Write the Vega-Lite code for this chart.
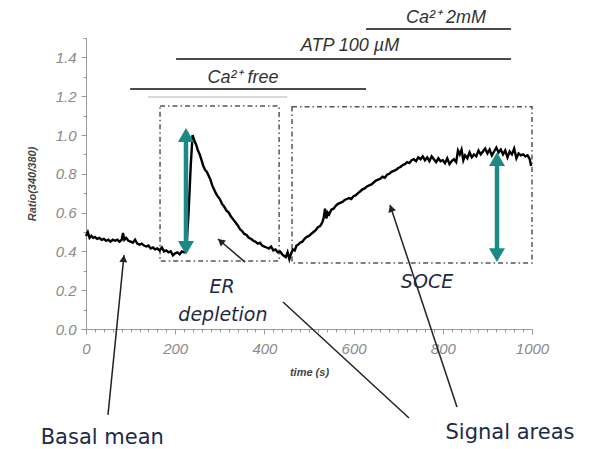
{
  "$schema": "https://vega.github.io/schema/vega-lite/v6.json",
  "autosize": "none",
  "width": 446,
  "height": 291,
  "padding": {"left": 86, "top": 38, "right": 76, "bottom": 120},
  "background": "white",
  "config": {"view": {"stroke": null}},
  "datasets": {
    "trace": [
      {"t":0,"v":0.48},{"t":4,"v":0.5},{"t":8,"v":0.47},{"t":12,"v":0.48},{"t":16,"v":0.47},{"t":20,"v":0.475},{"t":25,"v":0.465},{"t":30,"v":0.47},{"t":35,"v":0.46},{"t":40,"v":0.465},{"t":45,"v":0.455},{"t":50,"v":0.46},{"t":55,"v":0.45},{"t":60,"v":0.46},{"t":65,"v":0.455},{"t":70,"v":0.46},{"t":75,"v":0.45},{"t":80,"v":0.46},{"t":83,"v":0.495},{"t":86,"v":0.46},{"t":90,"v":0.47},{"t":95,"v":0.455},{"t":100,"v":0.45},{"t":105,"v":0.445},{"t":110,"v":0.46},{"t":115,"v":0.44},{"t":120,"v":0.435},{"t":125,"v":0.44},{"t":130,"v":0.43},{"t":135,"v":0.425},{"t":140,"v":0.43},{"t":145,"v":0.415},{"t":150,"v":0.42},{"t":155,"v":0.41},{"t":160,"v":0.415},{"t":165,"v":0.405},{"t":170,"v":0.42},{"t":175,"v":0.4},{"t":180,"v":0.405},{"t":185,"v":0.395},{"t":190,"v":0.4},{"t":195,"v":0.38},{"t":200,"v":0.39},{"t":205,"v":0.395},{"t":210,"v":0.385},{"t":215,"v":0.4},{"t":220,"v":0.395},{"t":225,"v":0.41},{"t":230,"v":0.6},{"t":235,"v":0.85},{"t":239,"v":1.0},{"t":243,"v":0.97},{"t":247,"v":0.95},{"t":251,"v":0.92},{"t":255,"v":0.9},{"t":259,"v":0.87},{"t":263,"v":0.84},{"t":267,"v":0.82},{"t":271,"v":0.81},{"t":275,"v":0.79},{"t":279,"v":0.77},{"t":283,"v":0.74},{"t":287,"v":0.72},{"t":291,"v":0.7},{"t":295,"v":0.685},{"t":300,"v":0.67},{"t":305,"v":0.645},{"t":310,"v":0.63},{"t":315,"v":0.61},{"t":320,"v":0.6},{"t":325,"v":0.58},{"t":330,"v":0.565},{"t":335,"v":0.55},{"t":340,"v":0.535},{"t":345,"v":0.515},{"t":350,"v":0.505},{"t":355,"v":0.49},{"t":360,"v":0.485},{"t":365,"v":0.47},{"t":370,"v":0.465},{"t":375,"v":0.455},{"t":380,"v":0.45},{"t":385,"v":0.44},{"t":390,"v":0.445},{"t":395,"v":0.43},{"t":400,"v":0.425},{"t":405,"v":0.42},{"t":410,"v":0.415},{"t":415,"v":0.425},{"t":420,"v":0.405},{"t":425,"v":0.41},{"t":430,"v":0.395},{"t":435,"v":0.4},{"t":440,"v":0.385},{"t":445,"v":0.375},{"t":448,"v":0.37},{"t":452,"v":0.395},{"t":456,"v":0.36},{"t":460,"v":0.39},{"t":464,"v":0.41},{"t":468,"v":0.405},{"t":472,"v":0.43},{"t":476,"v":0.435},{"t":480,"v":0.445},{"t":485,"v":0.45},{"t":490,"v":0.465},{"t":495,"v":0.475},{"t":500,"v":0.48},{"t":505,"v":0.49},{"t":510,"v":0.5},{"t":515,"v":0.51},{"t":520,"v":0.525},{"t":525,"v":0.53},{"t":530,"v":0.55},{"t":533,"v":0.575},{"t":536,"v":0.62},{"t":539,"v":0.57},{"t":542,"v":0.6},{"t":545,"v":0.59},{"t":550,"v":0.615},{"t":555,"v":0.62},{"t":560,"v":0.635},{"t":565,"v":0.645},{"t":570,"v":0.65},{"t":575,"v":0.655},{"t":580,"v":0.665},{"t":585,"v":0.67},{"t":590,"v":0.675},{"t":595,"v":0.67},{"t":600,"v":0.685},{"t":605,"v":0.69},{"t":610,"v":0.7},{"t":615,"v":0.71},{"t":620,"v":0.72},{"t":625,"v":0.725},{"t":630,"v":0.735},{"t":635,"v":0.74},{"t":640,"v":0.745},{"t":645,"v":0.755},{"t":650,"v":0.765},{"t":655,"v":0.77},{"t":660,"v":0.775},{"t":665,"v":0.785},{"t":670,"v":0.78},{"t":675,"v":0.795},{"t":680,"v":0.8},{"t":685,"v":0.81},{"t":690,"v":0.815},{"t":695,"v":0.82},{"t":700,"v":0.83},{"t":705,"v":0.835},{"t":710,"v":0.845},{"t":715,"v":0.85},{"t":720,"v":0.86},{"t":725,"v":0.855},{"t":730,"v":0.87},{"t":735,"v":0.875},{"t":740,"v":0.865},{"t":745,"v":0.885},{"t":750,"v":0.875},{"t":755,"v":0.89},{"t":760,"v":0.87},{"t":765,"v":0.885},{"t":770,"v":0.865},{"t":775,"v":0.89},{"t":780,"v":0.875},{"t":785,"v":0.86},{"t":790,"v":0.88},{"t":795,"v":0.865},{"t":800,"v":0.87},{"t":805,"v":0.855},{"t":810,"v":0.88},{"t":815,"v":0.85},{"t":820,"v":0.865},{"t":825,"v":0.875},{"t":830,"v":0.86},{"t":834,"v":0.92},{"t":838,"v":0.9},{"t":842,"v":0.925},{"t":846,"v":0.87},{"t":850,"v":0.895},{"t":855,"v":0.88},{"t":860,"v":0.91},{"t":865,"v":0.885},{"t":870,"v":0.9},{"t":875,"v":0.89},{"t":880,"v":0.92},{"t":885,"v":0.9},{"t":890,"v":0.915},{"t":895,"v":0.93},{"t":900,"v":0.905},{"t":905,"v":0.925},{"t":910,"v":0.895},{"t":915,"v":0.915},{"t":920,"v":0.935},{"t":925,"v":0.91},{"t":930,"v":0.925},{"t":935,"v":0.9},{"t":940,"v":0.92},{"t":945,"v":0.885},{"t":950,"v":0.915},{"t":955,"v":0.9},{"t":960,"v":0.93},{"t":965,"v":0.88},{"t":970,"v":0.905},{"t":975,"v":0.895},{"t":980,"v":0.9},{"t":985,"v":0.89},{"t":990,"v":0.895},{"t":995,"v":0.875},{"t":998,"v":0.84}
    ],
    "boxes": [
      {"t":166,"t2":433,"v":1.149,"v2":0.35},
      {"t":462,"t2":1000,"v":1.145,"v2":0.34}
    ],
    "bars": [
      {"t":99,"t2":628,"v":1.237},
      {"t":202,"t2":953,"v":1.392},
      {"t":628,"t2":953,"v":1.546}
    ],
    "lightbar": [
      {"t":139,"t2":451,"v":1.196}
    ],
    "teal": [
      {"t":224.2,"v":1.0,"v2":0.418},
      {"t":921.5,"v":0.876,"v2":0.381}
    ],
    "pointers": [
      {"t":49.3,"v":-0.443,"t2":85.2,"v2":0.381},
      {"t":356.5,"v":0.345,"t2":296,"v2":0.464},
      {"t":724.2,"v":-0.459,"t2":441.7,"v2":0.139},
      {"t":831.8,"v":-0.402,"t2":681.6,"v2":0.639}
    ],
    "toplabels": [
      {"t":352,"v":1.294,"txt":"Ca²⁺ free"},
      {"t":592,"v":1.459,"txt":"ATP 100 µM"},
      {"t":807,"v":1.603,"txt":"Ca²⁺ 2mM"}
    ],
    "regionlabels": [
      {"t":305,"v":0.216,"txt":"ER"},
      {"t":307,"v":0.072,"txt":"depletion"},
      {"t":764.6,"v":0.242,"txt":"SOCE"}
    ],
    "bottomlabels": [
      {"t":36.5,"v":-0.562,"txt":"Basal mean"},
      {"t":950.7,"v":-0.536,"txt":"Signal areas"}
    ]
  },
  "encoding": {
    "x": {
      "field": "t", "type": "quantitative",
      "scale": {"domain": [0, 1000], "nice": false, "zero": false},
      "axis": {
        "title": "time (s)",
        "values": [0,20,40,60,80,100,120,140,160,180,200,220,240,260,280,300,320,340,360,380,400,420,440,460,480,500,520,540,560,580,600,620,640,660,680,700,720,740,760,780,800,820,840,860,880,900,920,940,960,980,1000],
        "format": "d",
        "labelExpr": "datum.value % 200 === 0 ? datum.label : ''",
        "labelOverlap": false,
        "labelFlush": false,
        "labelFont": "Liberation Sans",
        "labelFontStyle": "italic",
        "labelFontSize": 15,
        "labelColor": "#8a8a8a",
        "labelPadding": 7,
        "tickColor": "#999999",
        "tickSize": {"condition": {"test": "datum.value % 200 === 0", "value": 5}, "value": 3},
        "domainColor": "#999999",
        "grid": false,
        "titleFont": "Liberation Sans",
        "titleFontStyle": "italic",
        "titleFontWeight": "bold",
        "titleFontSize": 11,
        "titleColor": "#444444",
        "titlePadding": 10
      }
    },
    "y": {
      "field": "v", "type": "quantitative",
      "scale": {"domain": [0, 1.5], "nice": false, "zero": false},
      "axis": {
        "title": "Ratio(340/380)",
        "values": [0,0.1,0.2,0.3,0.4,0.5,0.6,0.7,0.8,0.9,1.0,1.1,1.2,1.3,1.4,1.5],
        "labelExpr": "round(datum.value*10) % 2 === 0 ? format(datum.value, '.1f') : ''",
        "labelOverlap": false,
        "labelFlush": false,
        "labelFont": "Liberation Sans",
        "labelFontStyle": "italic",
        "labelFontSize": 15,
        "labelColor": "#8a8a8a",
        "labelPadding": 5,
        "tickColor": "#999999",
        "tickSize": {"condition": {"test": "round(datum.value*10) % 2 === 0", "value": 5}, "value": 3},
        "domainColor": "#999999",
        "grid": false,
        "titleFont": "Liberation Sans",
        "titleFontStyle": "italic",
        "titleFontWeight": "bold",
        "titleFontSize": 11,
        "titleColor": "#444444",
        "titlePadding": 18
      }
    }
  },
  "layer": [
    {
      "data": {"name": "boxes"},
      "mark": {"type": "rect", "fill": "transparent", "stroke": "#555555", "strokeWidth": 1.5, "strokeDash": [5, 3, 1.5, 3]},
      "encoding": {"x2": {"field": "t2"}, "y2": {"field": "v2"}}
    },
    {
      "data": {"name": "lightbar"},
      "mark": {"type": "rule", "color": "#cccccc", "strokeWidth": 1.5},
      "encoding": {"x2": {"field": "t2"}}
    },
    {
      "data": {"name": "bars"},
      "mark": {"type": "rule", "color": "#4a4a4a", "strokeWidth": 2},
      "encoding": {"x2": {"field": "t2"}}
    },
    {
      "data": {"name": "trace"},
      "mark": {"type": "line", "color": "#000000", "strokeWidth": 2.4, "interpolate": "linear"},
      "encoding": {}
    },
    {
      "data": {"name": "teal"},
      "mark": {"type": "rule", "color": "#1b8a86", "strokeWidth": 4.5},
      "encoding": {"y2": {"field": "v2"}}
    },
    {
      "data": {"name": "teal"},
      "mark": {"type": "point", "shape": "triangle-up", "filled": true, "color": "#1b8a86", "size": 256, "opacity": 1},
      "encoding": {}
    },
    {
      "data": {"name": "teal"},
      "mark": {"type": "point", "shape": "triangle-down", "filled": true, "color": "#1b8a86", "size": 256, "opacity": 1},
      "encoding": {"y": {"field": "v2", "type": "quantitative"}}
    },
    {
      "data": {"name": "pointers"},
      "mark": {"type": "rule", "color": "#222222", "strokeWidth": 1.5},
      "encoding": {"x2": {"field": "t2"}, "y2": {"field": "v2"}}
    },
    {
      "data": {"values": [{"t": 84.4, "v": 0.363}]},
      "mark": {"type": "point", "shape": "triangle-up", "filled": true, "color": "#222222", "size": 64, "opacity": 1, "angle": 5.7},
      "encoding": {}
    },
    {
      "data": {"values": [{"t": 302, "v": 0.452}]},
      "mark": {"type": "point", "shape": "triangle-up", "filled": true, "color": "#222222", "size": 64, "opacity": 1, "angle": 310.4},
      "encoding": {}
    },
    {
      "data": {"values": [{"t": 684.1, "v": 0.622}]},
      "mark": {"type": "point", "shape": "triangle-up", "filled": true, "color": "#222222", "size": 64, "opacity": 1, "angle": 341.7},
      "encoding": {}
    },
    {
      "data": {"name": "toplabels"},
      "mark": {"type": "text", "font": "Liberation Sans", "fontStyle": "italic", "fontSize": 18, "color": "#333333", "baseline": "middle", "align": "center"},
      "encoding": {"text": {"field": "txt"}}
    },
    {
      "data": {"name": "regionlabels"},
      "mark": {"type": "text", "font": "DejaVu Sans", "fontStyle": "italic", "fontSize": 19, "color": "#1e2a45", "baseline": "middle", "align": "center"},
      "encoding": {"text": {"field": "txt"}}
    },
    {
      "data": {"name": "bottomlabels"},
      "mark": {"type": "text", "font": "DejaVu Sans", "fontSize": 21, "color": "#1e2a45", "baseline": "middle", "align": "center"},
      "encoding": {"text": {"field": "txt"}}
    }
  ]
}
